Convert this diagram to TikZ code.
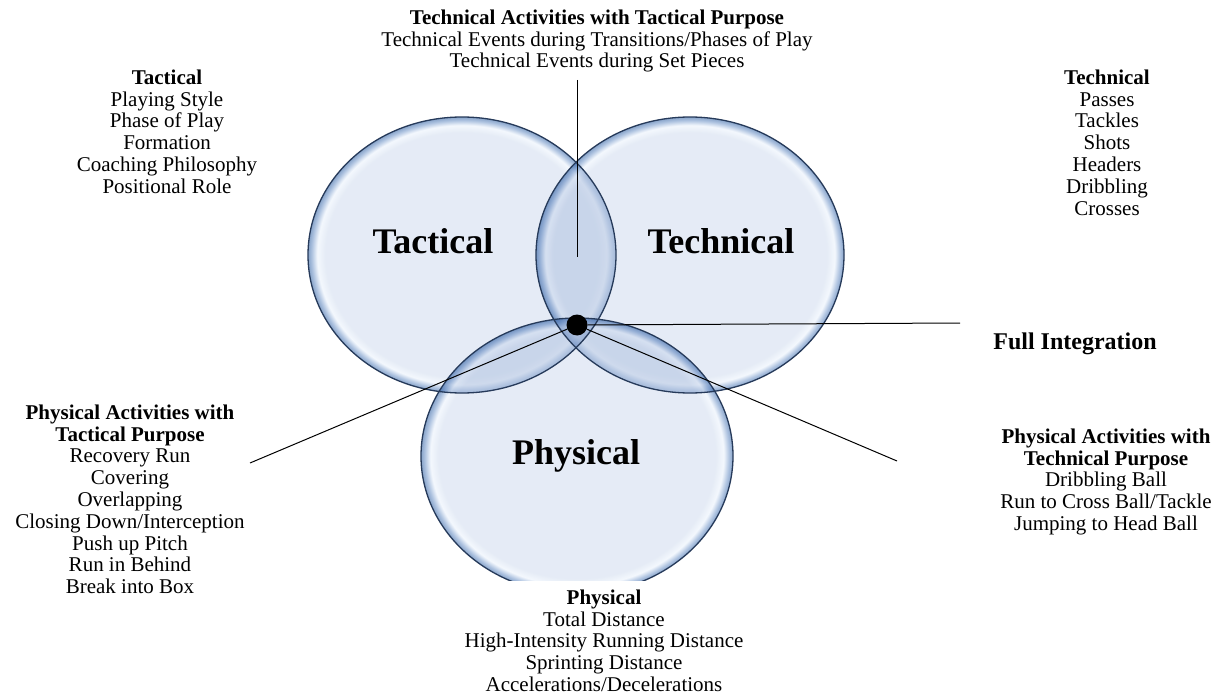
\documentclass[tikz,border=0pt]{standalone}
\usepackage{fontspec}
\setmainfont{Liberation Serif}
\pgfdeclareradialshading{bubble}{\pgfpoint{0bp}{0bp}}{%
 rgb(0bp)=(0.816,0.863,0.937);
 rgb(22.2bp)=(0.816,0.863,0.937);
 rgb(23.5bp)=(0.92,0.95,0.99);
 rgb(24.4bp)=(0.42,0.57,0.78);
 rgb(25bp)=(0.15,0.35,0.62);
 rgb(50bp)=(0.15,0.35,0.62)}
\definecolor{outl}{RGB}{38,58,90}
\definecolor{overlap}{RGB}{60,100,170}
\tikzset{
  bubblefill/.style={shading=bubble, fill opacity=0.55},
  bubbleline/.style={draw=outl, line width=1.3pt},
  conn/.style={draw=black, line width=1pt},
  txt/.style={font=\fontsize{21}{21.8}\selectfont, align=center, inner sep=0pt, anchor=north},
  big/.style={font=\fontsize{36}{40}\selectfont\bfseries, inner sep=0pt, anchor=base},
}
\begin{document}
\begin{tikzpicture}[x=1pt,y=-1pt]
\useasboundingbox[fill=white] (0,0) rectangle (1223,695);
\begin{scope}
  \clip (0,0) rectangle (1223,580);
  \shade[bubblefill] (462,255) ellipse [x radius=154, y radius=138];
  \shade[bubblefill] (690,255) ellipse [x radius=154, y radius=138];
  \shade[bubblefill] (577,456) ellipse [x radius=156, y radius=138];
  % darken pairwise overlaps
  \begin{scope}
    \clip (462,255) ellipse [x radius=154, y radius=138];
    \fill[overlap, fill opacity=0.1] (690,255) ellipse [x radius=154, y radius=138];
    \fill[overlap, fill opacity=0.1] (577,456) ellipse [x radius=156, y radius=138];
  \end{scope}
  \begin{scope}
    \clip (690,255) ellipse [x radius=154, y radius=138];
    \fill[overlap, fill opacity=0.1] (577,456) ellipse [x radius=156, y radius=138];
  \end{scope}
  \draw[bubbleline] (462,255) ellipse [x radius=154, y radius=138];
  \draw[bubbleline] (690,255) ellipse [x radius=154, y radius=138];
  \draw[bubbleline] (577,456) ellipse [x radius=156, y radius=138];
\end{scope}

\node[big] (lTac) at (433,253) {Tactical};
\node[big] (lTec) at (721,253) {Technical};
\node[big] (lPhy) at (576,464) {Physical};

\coordinate (topEnd) at (577,80);
\coordinate (lens) at (577,257);
\coordinate (fiEnd) at (960,323);
\coordinate (leftEnd) at (250,463);
\coordinate (rightEnd) at (897,461);

\node[circle, fill=black, minimum size=21pt, inner sep=0pt] (dot) at (577,325) {};

\draw[conn] (topEnd) -- (lens);
\draw[conn] (dot) -- (fiEnd);
\draw[conn] (dot) -- (leftEnd);
\draw[conn] (dot) -- (rightEnd);

\node[txt] (tTop) at (597,9.5) {\textbf{Technical Activities with Tactical Purpose}\\
Technical Events during Transitions/Phases of Play\\
Technical Events during Set Pieces};

\node[txt] (tTac) at (167,69.5) {\textbf{Tactical}\\Playing Style\\Phase of Play\\Formation\\Coaching Philosophy\\Positional Role};

\node[txt] (tTec) at (1107,69.5) {\textbf{Technical}\\Passes\\Tackles\\Shots\\Headers\\Dribbling\\Crosses};

\node[font=\fontsize{24}{26}\selectfont\bfseries, inner sep=0pt, anchor=base] (tFull) at (1075,349) {Full Integration};

\node[txt] (tPTac) at (130,404.5) {\textbf{Physical Activities with}\\\textbf{Tactical Purpose}\\Recovery Run\\Covering\\Overlapping\\Closing Down/Interception\\Push up Pitch\\Run in Behind\\Break into Box};

\node[txt] (tPTec) at (1106,428.5) {\textbf{Physical Activities with}\\\textbf{Technical Purpose}\\Dribbling Ball\\Run to Cross Ball/Tackle\\Jumping to Head Ball};

\node[txt] (tPhy) at (604,589.5) {\textbf{Physical}\\Total Distance\\High-Intensity Running Distance\\Sprinting Distance\\Accelerations/Decelerations};
\end{tikzpicture}
\end{document}
